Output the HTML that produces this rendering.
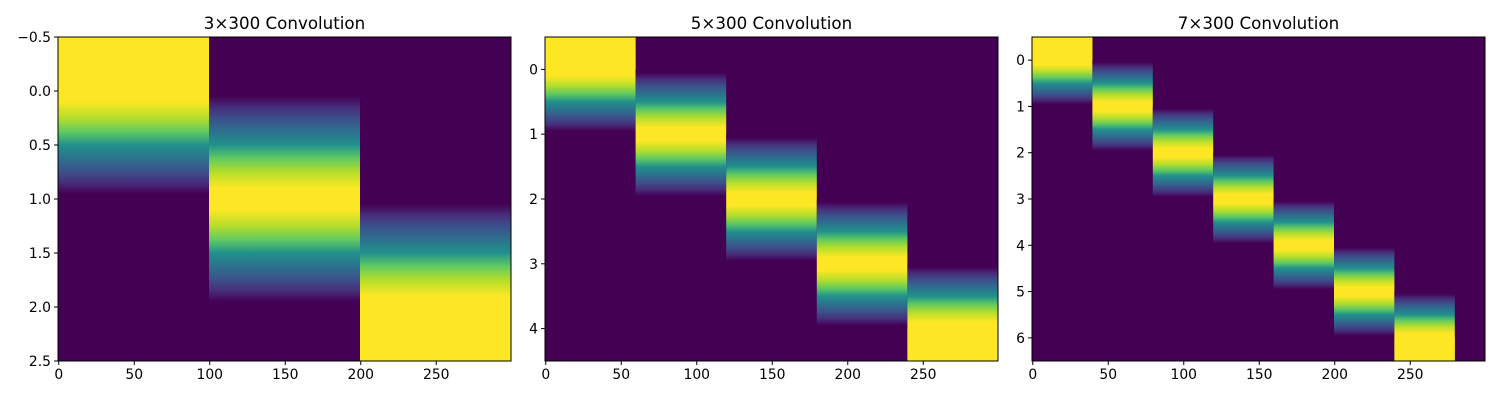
<!DOCTYPE html>
<html><head><meta charset="utf-8"><style>
body{margin:0;background:#fff;}
svg text{font-family:"DejaVu Sans","Liberation Sans",sans-serif;}
</style></head><body>
<svg id="fig" width="1500" height="400" xmlns="http://www.w3.org/2000/svg">
<defs id="defs"></defs>
</svg>
<script>
// data
const panelTitles = ["3×300 Convolution","5×300 Convolution","7×300 Convolution"];
const panelRows = [3,5,7];
const blockStarts = [[0,100,200],[0,60,120,180,240],[0,40,80,120,160,200,240]];
const blockEnds = [[100,200,300],[60,120,180,240,300],[40,80,120,160,200,240,280]];
const blockRow = [[0,1,2],[0,1,2,3,4],[0,1,2,3,4,5,6]];
const yTicks = [[-0.5,0,0.5,1,1.5,2,2.5],[0,1,2,3,4],[0,1,2,3,4,5,6]];
const yTickLabels = [["−0.5","0.0","0.5","1.0","1.5","2.0","2.5"],["0","1","2","3","4"],["0","1","2","3","4","5","6"]];
const xTicks = [0,50,100,150,200,250];

const NS="http://www.w3.org/2000/svg";
const svg=document.getElementById('fig');
const defs=document.getElementById('defs');
const axLeft=[58,545,1032], axTop=37, axW=453, axH=324;
function mk(tag,attrs,parent){const e=document.createElementNS(NS,tag);for(const k in attrs)e.setAttribute(k,attrs[k]);(parent||svg).appendChild(e);return e;}
const fade=[[0,"#fde725"],[0.1,"#fde725"],[0.25,"#b5de2b"],[0.38,"#5ec962"],[0.5,"#21918c"],[0.62,"#2c728e"],[0.74,"#3b528b"],[0.85,"#472d7b"],[0.95,"#440154"]];
for(let p=0;p<3;p++){
  const n=panelRows[p], L=axLeft[p];
  const xs=v=>L+(v+0.5)*axW/300;
  const ys=v=>axTop+(v+0.5)*axH/n;
  const g=mk('g',{});
  
  
  const cp=mk('clipPath',{id:'clip'+p},defs);
  mk('rect',{x:L,y:axTop,width:axW,height:axH},cp);
  const img=mk('g',{'clip-path':'url(#clip'+p+')'},g);
  
  
  mk('rect',{x:L,y:axTop,width:axW,height:axH,fill:'#440154'},img);
  blockStarts[p].forEach((s,i)=>{
    const k=blockRow[p][i], x0=xs(s-0.5), x1=xs(blockEnds[p][i]-0.5);
    const gid='gr'+p+'_'+i;
    const gr=mk('linearGradient',{id:gid,gradientUnits:'userSpaceOnUse',x1:0,x2:0,y1:ys(k-1),y2:ys(k+1)},defs);
    const stops=[];
    fade.slice().reverse().forEach(f=>stops.push([0.5-f[0]/2,f[1]]));
    fade.forEach(f=>stops.push([0.5+f[0]/2,f[1]]));
    stops.forEach(st=>mk('stop',{offset:st[0],'stop-color':st[1]},gr));
    const r=mk('rect',{x:x0,y:ys(k-1),width:x1-x0,height:ys(k+1)-ys(k-1),fill:'url(#'+gid+')'},img);
    
    
    if(k===0) mk('rect',{x:x0,y:axTop,width:x1-x0,height:ys(0)-axTop,fill:'#fde725'},img);
    if(k===n-1) mk('rect',{x:x0,y:ys(n-1),width:x1-x0,height:axTop+axH-ys(n-1),fill:'#fde725'},img);
  });
  const fr=mk('rect',{x:L,y:axTop,width:axW,height:axH,fill:'none',stroke:'#000','stroke-width':1},g);
  
  
  xTicks.forEach(t=>{
    const x=xs(t);
    mk('line',{x1:x,x2:x,y1:axTop+axH,y2:axTop+axH+4,stroke:'#000'},g);
    const tx=mk('text',{x:x,y:axTop+axH+18,'text-anchor':'middle','font-size':13.9},g);
    tx.textContent=t;
    
    
  });
  yTicks[p].forEach((t,i)=>{
    const y=ys(t);
    mk('line',{x1:L-4,x2:L,y1:y,y2:y,stroke:'#000'},g);
    const tx=mk('text',{x:L-7,y:y+5,'text-anchor':'end','font-size':13.9},g);
    tx.textContent=yTickLabels[p][i];
    
    
  });
  const tt=mk('text',{x:L+axW/2,y:29,'text-anchor':'middle','font-size':16.7},g);
  tt.textContent=panelTitles[p];
  
  
}
</script>
</body></html>
